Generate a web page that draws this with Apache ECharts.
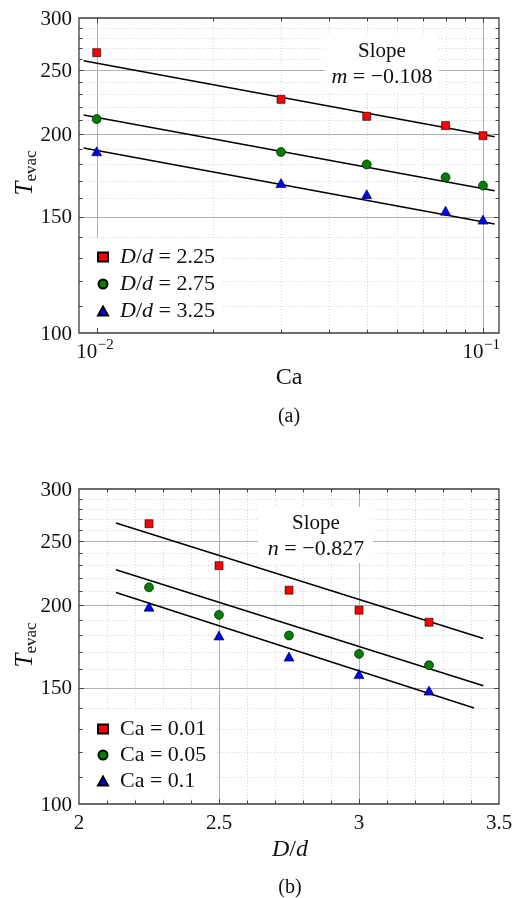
<!DOCTYPE html>
<html><head><meta charset="utf-8">
<script src="https://cdn.jsdelivr.net/npm/echarts@6/dist/echarts.min.js"></script>
<style>html,body{margin:0;padding:0;background:#fff}#c{width:514px;height:898px}</style>
</head><body><div id="c"></div>
<script>
// ---------- data ----------
const caValues = [0.01, 0.03, 0.05, 0.08, 0.1];
const tDd225 = [265.8, 225.9, 212.9, 206.1, 199.0];
const tDd275 = [210.9, 188.0, 180.0, 172.1, 167.2];
const tDd325 = [188.5, 168.7, 162.3, 153.2, 148.5];

const ddValues = [2.25, 2.5, 2.75, 3.0, 3.25];
const tCa001 = [265.8, 229.6, 210.8, 196.6, 188.5];
const tCa005 = [212.9, 193.4, 180.0, 168.8, 162.3];
const tCa01  = [199.0, 180.0, 167.2, 157.3, 148.5];

// fitted power-law lines (end points)
const fitCaX = [0.00925, 0.1072];
const fitDd225 = [258.5, 198.3];
const fitDd275 = [213.9, 164.2];
const fitDd325 = [190.7, 146.3];
const fitDdX = [2.132, 3.444];
const fitDdXShort = [2.132, 3.411];
const fitCa001 = [266.5, 178.1];
const fitCa005 = [226.4, 151.0];
const fitCa01  = [209.1, 139.8];

// axes
const caRange = [0.009, 0.11];
const ddRange = [2, 3.5];
const tRange = [100, 300];
const caMajor = [0.01, 0.1];
const caMinor = [0.02, 0.03, 0.04, 0.05, 0.06, 0.07, 0.08, 0.09];
const caLabelValues = [0.01, 0.1];
const caLabelExps = ['−2', '−1'];
const ddMajor = [2.5, 3];
const ddMinor = [2.1, 2.2, 2.3, 2.4, 2.6, 2.7, 2.8, 2.9, 3.1, 3.2, 3.3, 3.4];
const ddLabels = [2, 2.5, 3, 3.5];
const tMajor = [150, 200, 250];
const tMinor = [110, 120, 130, 140, 160, 170, 180, 190, 210, 220, 230, 240, 260, 270, 280, 290];
const tLabels = [100, 150, 200, 250, 300];

// ---------- helpers ----------
const serif = 'Liberation Serif';
const ink = '#111';
const pair = (xs, ys) => xs.map((x, i) => [x, ys[i]]);
const crisp = v => Math.round(v) + 0.5;
const ln = (x1, y1, x2, y2, style) => ({ type: 'line', shape: { x1, y1, x2, y2 }, style });
const txt = (x, y, text, size, align, extra) => ({
  type: 'text', x, y,
  style: Object.assign({ text, fontFamily: serif, fontSize: size, fill: ink, align: align || 'center', verticalAlign: 'middle' }, extra || {})
});

function gridRenderer(ax) {
  return function (params, api) {
    const lb = api.coord([ax.xr[0], ax.yr[0]]);
    const rt = api.coord([ax.xr[1], ax.yr[1]]);
    const L = lb[0], B = lb[1], R = rt[0], T = rt[1];
    const minor = { stroke: '#cdcdcd', lineWidth: 0.8, lineDash: [1, 2] };
    const major = { stroke: '#b0b0b0', lineWidth: 1 };
    const ch = [];
    ax.xMinor.forEach(v => { const x = crisp(api.coord([v, ax.yr[0]])[0]); ch.push(ln(x, T, x, B, minor)); });
    ax.yMinor.forEach(v => { const y = crisp(api.coord([ax.xr[0], v])[1]); ch.push(ln(L, y, R, y, minor)); });
    ax.xMajor.forEach(v => { const x = crisp(api.coord([v, ax.yr[0]])[0]); ch.push(ln(x, T, x, B, major)); });
    ax.yMajor.forEach(v => { const y = crisp(api.coord([ax.xr[0], v])[1]); ch.push(ln(L, y, R, y, major)); });
    return { type: 'group', children: ch };
  };
}

function frameRenderer(ax) {
  return function (params, api) {
    const lb = api.coord([ax.xr[0], ax.yr[0]]);
    const rt = api.coord([ax.xr[1], ax.yr[1]]);
    const L = lb[0], B = lb[1], R = rt[0], T = rt[1];
    const tk = { stroke: '#444', lineWidth: 1 };
    const ch = [];
    const xt = (v, len) => { const x = crisp(api.coord([v, ax.yr[0]])[0]); ch.push(ln(x, B, x, B - len, tk)); ch.push(ln(x, T, x, T + len, tk)); };
    const yt = (v, len) => { const y = crisp(api.coord([ax.xr[0], v])[1]); ch.push(ln(L, y, L + len, y, tk)); ch.push(ln(R, y, R - len, y, tk)); };
    ax.xMinor.forEach(v => xt(v, 3.5));
    ax.xMajor.forEach(v => xt(v, 5));
    ax.yMinor.forEach(v => yt(v, 3.5));
    ax.yMajor.forEach(v => yt(v, 5));
    ch.push({ type: 'rect', shape: { x: L, y: T, width: R - L, height: B - T }, style: { fill: 'none', stroke: '#3c3c3c', lineWidth: 1.3 } });
    ax.yLabels.forEach(v => { const y = api.coord([ax.xr[0], v])[1]; ch.push(txt(L - 7, y + 1, String(v), 21, 'right')); });
    ax.xLabelFn(api, B).forEach(e => ch.push(e));
    return { type: 'group', children: ch };
  };
}

const topAx = {
  xr: caRange, yr: tRange, xMajor: caMajor, xMinor: caMinor, yMajor: tMajor, yMinor: tMinor, yLabels: tLabels,
  xLabelFn: (api, B) => {
    const out = [];
    caLabelValues.forEach((v, i) => {
      const x = api.coord([v, tRange[0]])[0];
      out.push(txt(x + 0.5, B + 19, '10', 21, 'right'));
      out.push(txt(x + 1, B + 12, caLabelExps[i], 15, 'left'));
    });
    return out;
  }
};
const botAx = {
  xr: ddRange, yr: tRange, xMajor: ddMajor, xMinor: ddMinor, yMajor: tMajor, yMinor: tMinor, yLabels: tLabels,
  xLabelFn: (api, B) => ddLabels.map(v => txt(api.coord([v, tRange[0]])[0], B + 19, String(v), 21, 'center'))
};

const markerStyle = c => ({ color: c, borderColor: '#000', borderWidth: 0.6, opacity: 1 });
const scatter = (name, xi, data, sym, size, color) => ({
  type: 'scatter', name, xAxisIndex: xi, yAxisIndex: xi, data, symbol: sym, symbolSize: size,
  itemStyle: markerStyle(color), z: 3, silent: true
});
const fit = (xi, data) => ({
  type: 'line', xAxisIndex: xi, yAxisIndex: xi, data, symbol: 'none', silent: true, z: 2,
  lineStyle: { color: '#000', width: 1.5 }
});

const hiddenAxis = (type, gi, r) => ({
  type, gridIndex: gi, min: r[0], max: r[1], logBase: 10,
  axisLine: { show: false }, axisTick: { show: false }, axisLabel: { show: false }, splitLine: { show: false }, minorTick: { show: false }
});

const legendText = {
  fontFamily: serif, fontSize: 22, color: ink, lineHeight: 20, padding: [0, 0, 0, 7],
  rich: { it: { fontFamily: serif, fontStyle: 'italic', fontSize: 22, color: ink, lineHeight: 20 } }
};
const mathRich = size => ({ it: { fontFamily: serif, fontStyle: 'italic', fontSize: size, fill: ink } });

const option = {
  animation: false,
  backgroundColor: '#fff',
  textStyle: { fontFamily: serif },
  grid: [
    { left: 79, top: 18, width: 420, height: 315, containLabel: false, outerBoundsMode: 'none' },
    { left: 79, top: 489, width: 420, height: 315, containLabel: false, outerBoundsMode: 'none' }
  ],
  xAxis: [hiddenAxis('log', 0, caRange), hiddenAxis('value', 1, ddRange)],
  yAxis: [hiddenAxis('log', 0, tRange), hiddenAxis('log', 1, tRange)],
  legend: [
    {
      data: ['D/d = 2.25', 'D/d = 2.75', 'D/d = 3.25'], orient: 'vertical', left: 86, top: 238,
      padding: [8, 8, 6, 11], backgroundColor: '#fff', itemWidth: 10, itemHeight: 9, itemGap: 5,
      selectedMode: false, textStyle: legendText, formatter: n => n.replace('D/d', '{it|D}/{it|d}')
    },
    {
      data: ['Ca = 0.01', 'Ca = 0.05', 'Ca = 0.1'], orient: 'vertical', left: 86, top: 710,
      padding: [8, 8, 6, 11], backgroundColor: '#fff', itemWidth: 10, itemHeight: 9, itemGap: 4,
      selectedMode: false, textStyle: legendText
    }
  ],
  graphic: [
    { type: 'rect', shape: { x: 325, y: 35, width: 114, height: 57 }, style: { fill: '#fff' }, z: 1 },
    { type: 'text', x: 382, y: 51, z: 4, style: { text: 'Slope', fontFamily: serif, fontSize: 21, fill: ink, align: 'center', verticalAlign: 'middle' } },
    { type: 'text', x: 382, y: 77, z: 4, style: { text: '{it|m} = −0.108', fontFamily: serif, fontSize: 22, fill: ink, align: 'center', verticalAlign: 'middle', rich: mathRich(22) } },
    { type: 'rect', shape: { x: 258, y: 507, width: 115, height: 56 }, style: { fill: '#fff' }, z: 1 },
    { type: 'text', x: 316, y: 523, z: 4, style: { text: 'Slope', fontFamily: serif, fontSize: 21, fill: ink, align: 'center', verticalAlign: 'middle' } },
    { type: 'text', x: 316, y: 549, z: 4, style: { text: '{it|n} = −0.827', fontFamily: serif, fontSize: 22, fill: ink, align: 'center', verticalAlign: 'middle', rich: mathRich(22) } },
    // axis titles
    { type: 'text', x: 289, y: 378, z: 4, style: { text: 'Ca', fontFamily: serif, fontSize: 24, fill: ink, align: 'center', verticalAlign: 'middle' } },
    { type: 'text', x: 289, y: 417, z: 4, style: { text: '(a)', fontFamily: serif, fontSize: 20, fill: ink, align: 'center', verticalAlign: 'middle' } },
    { type: 'text', x: 290, y: 850, z: 4, style: { text: '{it|D}/{it|d}', fontFamily: serif, fontSize: 24, fill: ink, align: 'center', verticalAlign: 'middle', rich: mathRich(24) } },
    { type: 'text', x: 290, y: 888, z: 4, style: { text: '(b)', fontFamily: serif, fontSize: 20, fill: ink, align: 'center', verticalAlign: 'middle' } },
    { type: 'text', x: 25, y: 173, rotation: Math.PI / 2, z: 4, style: { text: '{T|T}{s|evac}', fontFamily: serif, align: 'center', verticalAlign: 'middle',
      rich: { T: { fontFamily: serif, fontStyle: 'italic', fontSize: 25, fill: ink, lineHeight: 30, verticalAlign: 'middle' },
              s: { fontFamily: serif, fontSize: 17, fill: ink, lineHeight: 17, verticalAlign: 'bottom' } } } },
    { type: 'text', x: 25, y: 645, rotation: Math.PI / 2, z: 4, style: { text: '{T|T}{s|evac}', fontFamily: serif, align: 'center', verticalAlign: 'middle',
      rich: { T: { fontFamily: serif, fontStyle: 'italic', fontSize: 25, fill: ink, lineHeight: 30, verticalAlign: 'middle' },
              s: { fontFamily: serif, fontSize: 17, fill: ink, lineHeight: 17, verticalAlign: 'bottom' } } } }
  ],
  series: [
    { type: 'custom', xAxisIndex: 0, yAxisIndex: 0, data: [[caRange[0], tRange[0]]], renderItem: gridRenderer(topAx), clip: false, silent: true, z: 0 },
    { type: 'custom', xAxisIndex: 1, yAxisIndex: 1, data: [[ddRange[0], tRange[0]]], renderItem: gridRenderer(botAx), clip: false, silent: true, z: 0 },
    fit(0, pair(fitCaX, fitDd225)),
    fit(0, pair(fitCaX, fitDd275)),
    fit(0, pair(fitCaX, fitDd325)),
    fit(1, pair(fitDdX, fitCa001)),
    fit(1, pair(fitDdX, fitCa005)),
    fit(1, pair(fitDdXShort, fitCa01)),
    scatter('D/d = 2.25', 0, pair(caValues, tDd225), 'rect', 8, '#ff0000'),
    scatter('D/d = 2.75', 0, pair(caValues, tDd275), 'circle', 9, '#008000'),
    scatter('D/d = 3.25', 0, pair(caValues, tDd325), 'triangle', [10, 9], '#0000ff'),
    scatter('Ca = 0.01', 1, pair(ddValues, tCa001), 'rect', 8, '#ff0000'),
    scatter('Ca = 0.05', 1, pair(ddValues, tCa005), 'circle', 9, '#008000'),
    scatter('Ca = 0.1', 1, pair(ddValues, tCa01), 'triangle', [10, 9], '#0000ff'),
    { type: 'custom', xAxisIndex: 0, yAxisIndex: 0, data: [[caRange[0], tRange[0]]], renderItem: frameRenderer(topAx), clip: false, silent: true, z: 6 },
    { type: 'custom', xAxisIndex: 1, yAxisIndex: 1, data: [[ddRange[0], tRange[0]]], renderItem: frameRenderer(botAx), clip: false, silent: true, z: 6 }
  ]
};

const chart = echarts.init(document.getElementById('c'), null, { renderer: 'canvas' });
chart.setOption(option);
</script>
</body></html>
